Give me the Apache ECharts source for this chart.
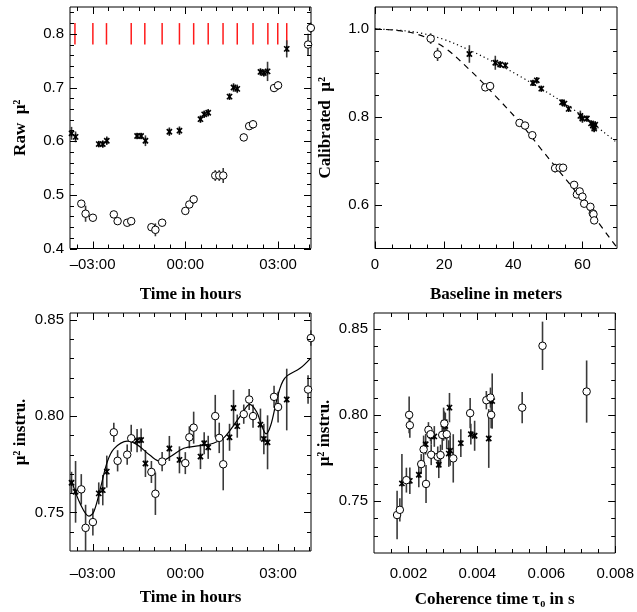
<!DOCTYPE html>
<html><head><meta charset="utf-8">
<script src="https://cdn.jsdelivr.net/npm/echarts@6/dist/echarts.min.js"></script>
<style>html,body{margin:0;padding:0;background:#fff}#c{width:637px;height:612px}</style>
</head><body><div id="c"></div>
<script>
// ---------- Panel 1 & 3 : time series (hours) ----------
const timeCircles = [-3.365,-3.226,-2.99,-2.313,-2.19,-1.88,-1.75,-1.097,-0.968,-0.75,0.0,0.13,0.27,0.968,1.097,1.226,1.89,2.065,2.19,2.87,3.0,3.97,4.06];
const rawCircles = [0.4835,0.4648,0.4573,0.4635,0.451,0.448,0.451,0.4397,0.4348,0.448,0.470,0.482,0.4916,0.536,0.536,0.536,0.607,0.628,0.6315,0.699,0.704,0.780,0.811];
const rawCirclesErr = [0.007,0.015,0.007,0.006,0.006,0.006,0.007,0.007,0.012,0.006,0.006,0.006,0.008,0.01,0.01,0.014,0.007,0.007,0.008,0.007,0.008,0.02,0.01];
const timeStars = [-3.68,-3.55,-2.80,-2.67,-2.54,-1.56,-1.43,-1.29,-0.516,-0.19,0.49,0.61,0.74,1.43,1.56,1.68,2.43,2.54,2.66,3.28];
const rawStars = [0.6146,0.608,0.5946,0.5946,0.6008,0.6096,0.6096,0.6008,0.6176,0.6195,0.641,0.650,0.653,0.683,0.700,0.6975,0.729,0.727,0.730,0.772];
const rawStarsErr = [0.012,0.01,0.006,0.007,0.008,0.006,0.006,0.01,0.008,0.008,0.007,0.007,0.007,0.006,0.008,0.008,0.007,0.007,0.018,0.016];
const redTimes = [-3.57,-2.99,-2.55,-1.75,-1.31,-0.75,-0.19,0.27,0.74,1.22,1.68,2.19,2.67,2.99,3.28];
const redRange = [0.78, 0.82];

const instCircles = [0.762,0.742,0.745,0.7916,0.7768,0.780,0.7885,0.771,0.7597,0.7764,0.7756,0.789,0.794,0.800,0.7887,0.775,0.801,0.8086,0.800,0.810,0.8047,0.8138,0.8405];
const instCirclesErr = [0.0079,0.012,0.007,0.005,0.0055,0.0052,0.007,0.0057,0.011,0.005,0.0057,0.0057,0.0083,0.011,0.0079,0.0135,0.005,0.0054,0.006,0.0057,0.008,0.0074,0.004];
const instStars = [0.7654,0.7607,0.7599,0.7616,0.7712,0.7873,0.7876,0.7754,0.7832,0.7773,0.779,0.7859,0.7838,0.789,0.8042,0.7948,0.7956,0.7881,0.7864,0.8086];
const instStarsErr = [0.0057,0.016,0.0057,0.0079,0.0083,0.006,0.006,0.007,0.0065,0.007,0.0065,0.0057,0.006,0.007,0.0094,0.006,0.0083,0.0079,0.014,0.016];
const fitTimes = [-3.68,-3.39,-3.12,-2.96,-2.74,-2.53,-2.31,-1.88,-1.56,-1.13,-0.81,-0.48,-0.05,0.48,0.91,1.24,1.56,1.83,2.08,2.31,2.47,2.61,2.76,2.94,3.05,3.16,3.3,3.71,4.05];
const fitValues = [0.7664,0.7542,0.7481,0.7504,0.7629,0.776,0.783,0.787,0.7852,0.7795,0.7765,0.779,0.7833,0.7847,0.7859,0.7887,0.7951,0.8012,0.8061,0.8021,0.7951,0.7908,0.7951,0.8073,0.8138,0.8183,0.821,0.8248,0.830];

// ---------- Panel 2 : baseline (m) ----------
const baseCircles = [16.1,18.1,31.9,33.3,41.8,43.4,45.5,52.1,53.4,54.4,57.6,58.4,59.2,60.0,60.5,62.3,63.0,63.2,63.4];
const calCircles = [0.978,0.942,0.867,0.870,0.786,0.780,0.758,0.683,0.684,0.684,0.645,0.623,0.630,0.618,0.602,0.595,0.580,0.578,0.564];
const calCirclesErr = [0.012,0.015,0.008,0.006,0.008,0.005,0.006,0.01,0.008,0.008,0.006,0.008,0.008,0.006,0.006,0.006,0.008,0.006,0.008];
const baseStars = [27.3,34.8,36.2,37.7,45.7,46.8,48.1,54.1,54.8,56.0,59.4,60.0,61.3,62.5,63.0,63.4,63.7,63.4];
const calStars = [0.943,0.923,0.919,0.917,0.877,0.883,0.864,0.833,0.830,0.818,0.802,0.796,0.796,0.785,0.780,0.777,0.782,0.773];
const calStarsErr = [0.02,0.016,0.008,0.006,0.007,0.007,0.006,0.006,0.006,0.006,0.012,0.01,0.006,0.006,0.008,0.008,0.008,0.008];
const dottedX = [0,7,13,20,27.5,35,42,48,54.6,61,66,70];
const dottedY = [1.0,0.997,0.991,0.976,0.951,0.922,0.892,0.864,0.832,0.796,0.766,0.741];
const dashedX = [0,7,13,20,27.5,35,42,48,53.6,58,63.2,70];
const dashedY = [1.0,0.996,0.986,0.958,0.906,0.846,0.786,0.727,0.673,0.630,0.574,0.502];

// ---------- Panel 4 : coherence time (s) ----------
const tauCircles = [0.00167,0.00175,0.00194,0.00202,0.00204,0.00237,0.00244,0.00251,0.00258,0.00264,0.00266,0.00285,0.00293,0.00298,0.00304,0.00311,0.0033,0.00379,0.00426,0.00438,0.0044,0.0053,0.00589,0.00717];
const tauInstCircles = [0.742,0.745,0.7622,0.800,0.794,0.7715,0.780,0.760,0.7913,0.7888,0.7769,0.7757,0.7767,0.7884,0.795,0.7888,0.7748,0.801,0.8085,0.810,0.800,0.8042,0.840,0.8135];
const tauInstCirclesErr = [0.014,0.0067,0.0072,0.0106,0.0072,0.0058,0.008,0.011,0.0045,0.004,0.006,0.006,0.006,0.0087,0.007,0.0087,0.014,0.0087,0.0053,0.0058,0.0077,0.009,0.014,0.018];
const tauStars = [0.00181,0.00204,0.0023,0.0025,0.00266,0.00275,0.00288,0.00302,0.00307,0.00317,0.00319,0.00321,0.00352,0.00381,0.00392,0.00433,0.00443];
const tauInstStars = [0.7603,0.7618,0.7653,0.783,0.7879,0.7875,0.7711,0.7946,0.7936,0.7776,0.8042,0.7792,0.7836,0.7888,0.7879,0.7863,0.808];
const tauInstStarsErr = [0.017,0.0077,0.0072,0.006,0.005,0.006,0.0077,0.0096,0.0077,0.0077,0.0085,0.0087,0.008,0.006,0.0087,0.017,0.016];

// ---------- tick labels ----------
const timeLabels = [-3, 0, 3];
const rawLabels = [0.4,0.5,0.6,0.7,0.8];
const baseLabels = [0,20,40,60];
const calLabels = [0.6,0.8,1.0];
const instLabels = [0.75,0.80,0.85];
const tauLabels = [0.002,0.004,0.006,0.008];

const fmtTime = v => (v < 0 ? '\u2013' : '') + String(Math.abs(Math.round(v))).padStart(2,'0') + ':00';

const NAME_STYLE = {fontFamily:'Liberation Serif', fontWeight:'bold', fontSize:17, color:'#000'};
const LABEL_STYLE = {fontFamily:'Liberation Sans', fontSize:15, color:'#000'};

// tick runs: [first, last, step]; minor = short ticks, major = long ticks
const panels = [
  {rect:{left:70, top:7, width:241, height:241.5},
   x:{min:-3.73, max:4.065, minor:[-3.5,4.0,0.5], major:[-3,3,3], labels:timeLabels, fmt:fmtTime, name:'Time in hours', margin:9},
   y:{min:0.4, max:0.85, minor:[0.42,0.84,0.02], major:[0.4,0.8,0.1], labels:rawLabels, fmt:v=>v.toFixed(1), name:'Raw  \u03bc\u00b2'}},
  {rect:{left:375, top:7, width:242, height:241.5},
   x:{min:0, max:70, minor:[5,65,5], major:[0,60,20], labels:baseLabels, fmt:v=>String(Math.round(v)), name:'Baseline in meters', margin:9},
   y:{min:0.5, max:1.05, minor:[0.55,1.0,0.05], major:[0.6,1.0,0.2], labels:calLabels, fmt:v=>v.toFixed(1), name:'Calibrated  \u03bc\u00b2'}},
  {rect:{left:70, top:313, width:241, height:238},
   x:{min:-3.73, max:4.065, minor:[-3.5,4.0,0.5], major:[-3,3,3], labels:timeLabels, fmt:fmtTime, name:'Time in hours', margin:15},
   y:{min:0.73, max:0.8535, minor:[0.74,0.85,0.01], major:[0.75,0.85,0.05], labels:instLabels, fmt:v=>v.toFixed(2), name:'\u03bc\u00b2 instru.'}},
  {rect:{left:374, top:313, width:243, height:240},
   x:{min:0.001, max:0.008, minor:[0.0015,0.0075,0.0005], major:[0.002,0.008,0.002], labels:tauLabels, fmt:v=>v.toFixed(3), name:'Coherence time \u03c4\u2080 in s', margin:13},
   y:{min:0.72, max:0.859, minor:[0.73,0.85,0.01], major:[0.75,0.85,0.05], labels:instLabels, fmt:v=>v.toFixed(2), name:'\u03bc\u00b2 instru.'}}
];

const runValues = r => { const out = []; const n = Math.round((r[1] - r[0]) / r[2]); for (let i = 0; i <= n; i++) out.push(+(r[0] + i * r[2]).toFixed(6)); return out; };

const grids = [], xAxes = [], yAxes = [];
function mainAxis(cfg, dim, g) {
  const ax = {type:'value', gridIndex:g, position: dim==='x' ? 'bottom' : 'left', min:cfg.min, max:cfg.max,
    axisLine:{show:false, onZero:false}, axisTick:{show:false}, splitLine:{show:false},
    axisLabel:{show:true, customValues:cfg.labels, formatter:cfg.fmt, margin: dim==='x' ? cfg.margin : 6, ...LABEL_STYLE},
    name:cfg.name, nameLocation:'middle', nameGap: dim==='x' ? 38 : 41, nameTextStyle:NAME_STYLE};
  if (dim === 'y') ax.nameRotate = 90;
  return ax;
}
panels.forEach((p, i) => {
  grids.push(Object.assign({show:true, borderColor:'#000', borderWidth:1, backgroundColor:'rgba(0,0,0,0)', containLabel:false}, p.rect));
  xAxes.push(mainAxis(p.x, 'x', i));
  yAxes.push(mainAxis(p.y, 'y', i));
});

// ticks on all four sides, positioned through the axes' own scales
function renderXTick(params, api) {
  const v = api.value(0), len = api.value(3);
  const b = api.coord([v, api.value(1)]), t = api.coord([v, api.value(2)]);
  const px = Math.round(b[0]) + 0.5;
  return {type:'group', children:[
    {type:'line', shape:{x1:px, y1:b[1], x2:px, y2:b[1] - len}, style:{stroke:'#000', lineWidth:1}},
    {type:'line', shape:{x1:px, y1:t[1], x2:px, y2:t[1] + len}, style:{stroke:'#000', lineWidth:1}}]};
}
function renderYTick(params, api) {
  const v = api.value(1), len = api.value(3);
  const l = api.coord([api.value(0), v]), r = api.coord([api.value(2), v]);
  const py = Math.round(l[1]) + 0.5;
  return {type:'group', children:[
    {type:'line', shape:{x1:l[0], y1:py, x2:l[0] + len, y2:py}, style:{stroke:'#000', lineWidth:1}},
    {type:'line', shape:{x1:r[0], y1:py, x2:r[0] - len, y2:py}, style:{stroke:'#000', lineWidth:1}}]};
}
function tickSeries(i) {
  const p = panels[i], out = [];
  [['minor', 4], ['major', 7]].forEach(([kind, len]) => {
    out.push({type:'custom', xAxisIndex:i, yAxisIndex:i, renderItem:renderXTick, silent:true, z:5, clip:false,
              data: runValues(p.x[kind]).map(v => [v, p.y.min, p.y.max, len]), encode:{x:0, y:1}});
    out.push({type:'custom', xAxisIndex:i, yAxisIndex:i, renderItem:renderYTick, silent:true, z:5, clip:false,
              data: runValues(p.y[kind]).map(v => [p.x.min, v, p.x.max, len]), encode:{x:0, y:1}});
  });
  return out;
}

function renderErr(params, api) {
  const x = api.value(0), y = api.value(1), e = api.value(2);
  const a = api.coord([x, y - e]), b = api.coord([x, y + e]);
  return {type:'line', shape:{x1:a[0], y1:a[1], x2:b[0], y2:b[1]}, style:{stroke:'#3a3a3a', lineWidth:1.6}};
}
function renderStar(params, api) {
  const c = api.coord([api.value(0), api.value(1)]);
  const s = 2.6, st = {stroke:'#000', lineWidth:1.6};
  return {type:'group', children:[
    {type:'line', shape:{x1:c[0]-s, y1:c[1]-s, x2:c[0]+s, y2:c[1]+s}, style:st},
    {type:'line', shape:{x1:c[0]-s, y1:c[1]+s, x2:c[0]+s, y2:c[1]-s}, style:st},
    {type:'line', shape:{x1:c[0], y1:c[1]-s-0.5, x2:c[0], y2:c[1]+s+0.5}, style:st}
  ]};
}
function renderRed(params, api) {
  const t = api.value(0);
  const a = api.coord([t, api.value(1)]), b = api.coord([t, api.value(2)]);
  return {type:'line', shape:{x1:a[0], y1:a[1], x2:b[0], y2:b[1]}, style:{stroke:'#ff1a1a', lineWidth:1.5}};
}
const zip3 = (a, b, c) => a.map((v, i) => [v, b[i], c[i]]);
const zip2 = (a, b) => a.map((v, i) => [v, b[i]]);

function errSeries(ai, xs, ys, es) {
  return {type:'custom', xAxisIndex:ai, yAxisIndex:ai, renderItem:renderErr, data:zip3(xs, ys, es), encode:{x:0, y:1}, z:2, silent:true};
}
function circleSeries(ai, xs, ys) {
  return {type:'scatter', xAxisIndex:ai, yAxisIndex:ai, data:zip2(xs, ys), symbol:'circle', symbolSize:7.5,
          itemStyle:{color:'#fff', borderColor:'#000', borderWidth:1, opacity:1}, z:4, silent:true, clip:false};
}
function starSeries(ai, xs, ys) {
  return {type:'custom', xAxisIndex:ai, yAxisIndex:ai, renderItem:renderStar, data:zip2(xs, ys), encode:{x:0, y:1}, z:4, silent:true};
}
function curveSeries(ai, xs, ys, type) {
  return {type:'line', xAxisIndex:ai, yAxisIndex:ai, data:zip2(xs, ys), smooth:0.35, showSymbol:false, symbol:'none',
          lineStyle:{color:'#000', width:1.2, type:type}, z:3, silent:true};
}

const series = [
  {type:'custom', xAxisIndex:0, yAxisIndex:0, renderItem:renderRed, data:redTimes.map(t => [t, redRange[0], redRange[1]]), encode:{x:0, y:1}, z:2, silent:true},
  errSeries(0, timeCircles, rawCircles, rawCirclesErr),
  errSeries(0, timeStars, rawStars, rawStarsErr),
  circleSeries(0, timeCircles, rawCircles),
  starSeries(0, timeStars, rawStars),
  curveSeries(1, dottedX, dottedY, [1.2, 3]),
  curveSeries(1, dashedX, dashedY, [6, 5]),
  errSeries(1, baseCircles, calCircles, calCirclesErr),
  errSeries(1, baseStars, calStars, calStarsErr),
  circleSeries(1, baseCircles, calCircles),
  starSeries(1, baseStars, calStars),
  curveSeries(2, fitTimes, fitValues, 'solid'),
  errSeries(2, timeCircles, instCircles, instCirclesErr),
  errSeries(2, timeStars, instStars, instStarsErr),
  circleSeries(2, timeCircles, instCircles),
  starSeries(2, timeStars, instStars),
  errSeries(3, tauCircles, tauInstCircles, tauInstCirclesErr),
  errSeries(3, tauStars, tauInstStars, tauInstStarsErr),
  circleSeries(3, tauCircles, tauInstCircles),
  starSeries(3, tauStars, tauInstStars),
  ...tickSeries(0), ...tickSeries(1), ...tickSeries(2), ...tickSeries(3)
];

const chart = echarts.init(document.getElementById('c'), null, {renderer:'canvas'});
chart.setOption({backgroundColor:'#fff', animation:false, grid:grids, xAxis:xAxes, yAxis:yAxes, series:series});
</script></body></html>
